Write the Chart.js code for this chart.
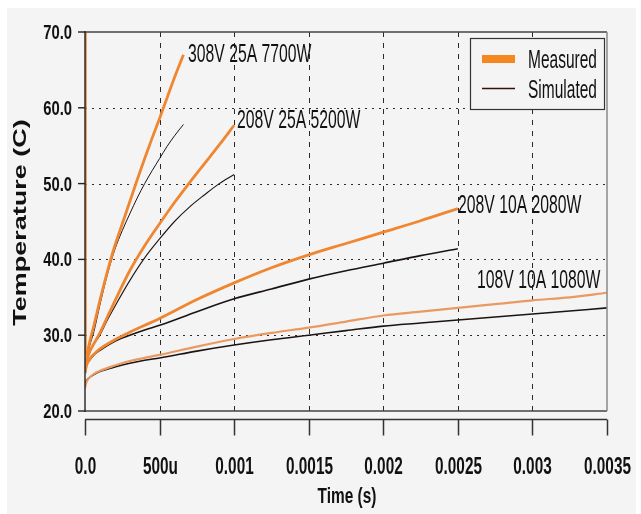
<!DOCTYPE html>
<html>
<head>
<meta charset="utf-8">
<script src="https://cdn.jsdelivr.net/npm/chart.js@4.4.1/dist/chart.umd.min.js"></script>
<style>
html,body{margin:0;padding:0;background:#ffffff;}
#wrap{width:641px;height:514px;position:relative;}
</style>
</head>
<body>
<div id="wrap"><canvas id="c" width="641" height="514"></canvas></div>
<script>
// ---- data ----
const xTickValues = [0, 0.0005, 0.001, 0.0015, 0.002, 0.0025, 0.003, 0.0035];
const xTickLabels = ['0.0', '500u', '0.001', '0.0015', '0.002', '0.0025', '0.003', '0.0035'];
const yTickValues = [70, 60, 50, 40, 30, 20];
const yTickLabels = ['70.0', '60.0', '50.0', '40.0', '30.0', '20.0'];
const xTitle = 'Time (s)';
const yTitle = 'Temperature (C)';
const legendLabels = ['Measured', 'Simulated'];

const spikeTime = [0.000005, 0.000005];
const spikeTemp = [70.5, 27.5];

const time308 = [0, 0.00001, 0.00003, 0.00006, 0.0001, 0.00015, 0.0002, 0.00025, 0.0003, 0.00035, 0.0004, 0.00045, 0.0005, 0.00055, 0.0006, 0.00066];
const meas308 = [25.0, 27.0, 29.0, 31.3, 34.6, 38.4, 41.8, 44.7, 47.6, 50.5, 53.3, 56.0, 58.6, 61.3, 64.0, 67.0];
const sim308  = [25.5, 26.8, 28.5, 30.5, 34.0, 38.0, 41.3, 43.8, 46.0, 48.1, 50.0, 51.7, 53.3, 54.9, 56.3, 57.8];

const time208a = [0, 0.00001, 0.00003, 0.00006, 0.0001, 0.00015, 0.0002, 0.0003, 0.0004, 0.0005, 0.0006, 0.0007, 0.0008, 0.0009, 0.001];
const meas208a = [25.3, 26.5, 27.8, 28.9, 30.3, 32.4, 34.5, 38.5, 41.8, 44.7, 47.5, 50.1, 52.6, 55.1, 57.7];
const sim208a  = [25.5, 26.4, 27.6, 28.8, 30.0, 32.0, 33.8, 37.2, 40.2, 42.7, 45.0, 46.9, 48.5, 50.0, 51.2];

const time208b = [0, 0.00001, 0.00003, 0.00006, 0.0001, 0.0002, 0.0003, 0.0004, 0.0005, 0.00075, 0.001, 0.00125, 0.0015, 0.00175, 0.002, 0.00225, 0.0025];
const meas208b = [25.0, 26.0, 26.8, 27.5, 28.2, 29.4, 30.4, 31.3, 32.2, 34.7, 36.9, 38.9, 40.6, 42.1, 43.6, 45.1, 46.7];
const sim208b  = [25.5, 26.1, 26.7, 27.4, 28.0, 29.2, 30.0, 30.7, 31.3, 33.1, 34.8, 36.1, 37.4, 38.5, 39.5, 40.5, 41.4];

const time108 = [0, 0.00001, 0.00003, 0.00006, 0.0001, 0.0002, 0.0003, 0.0004, 0.0005, 0.00075, 0.001, 0.00125, 0.0015, 0.00175, 0.002, 0.00225, 0.0025, 0.00275, 0.003, 0.00325, 0.0035];
const meas108 = [23.0, 23.8, 24.4, 24.9, 25.3, 26.0, 26.6, 27.0, 27.4, 28.5, 29.5, 30.3, 31.0, 31.8, 32.6, 33.1, 33.6, 34.1, 34.6, 35.0, 35.6];
const sim108  = [23.5, 24.0, 24.4, 24.8, 25.2, 25.8, 26.3, 26.7, 27.0, 27.9, 28.7, 29.4, 30.0, 30.6, 31.2, 31.6, 32.0, 32.4, 32.8, 33.2, 33.6];

const curveLabels = ['308V 25A 7700W', '208V 25A 5200W', '208V 10A 2080W', '108V 10A 1080W'];

// ---- helpers ----
function pts(xs, ys){ return xs.map((x, i) => ({x: x, y: ys[i]})); }
const ORANGE = '#ef8631';
const ORANGE_LIGHT = '#e99a62';
const DARK = '#1c1414';

function ds(xs, ys, color, width){
  return {data: pts(xs, ys), borderColor: color, borderWidth: width, pointRadius: 0, fill: false,
          cubicInterpolationMode: 'monotone', showLine: true};
}

function drawText(ctx, s, x, y, size, f, align, weight, color){
  ctx.save();
  ctx.font = weight + ' ' + size + 'px "Liberation Sans", Arial, sans-serif';
  ctx.fillStyle = color || '#111';
  ctx.textAlign = align;
  ctx.textBaseline = 'alphabetic';
  ctx.translate(x, y);
  ctx.scale(f, 1);
  ctx.fillText(s, 0, 0);
  ctx.restore();
}

const decor = {
  id: 'decor',
  beforeDraw(chart){
    const ctx = chart.ctx;
    const xs = chart.scales.x, ys = chart.scales.y;
    const a = chart.chartArea;
    ctx.save();
    ctx.fillStyle = '#ffffff';
    ctx.fillRect(0, 0, chart.width, chart.height);
    ctx.fillStyle = '#f4f4f4';
    ctx.fillRect(7, 8, 629, 506);
    // grid
    ctx.strokeStyle = '#2a2a2a';
    ctx.lineWidth = 1;
    ctx.setLineDash([5, 6]);
    xTickValues.forEach(v => {
      if (v === xs.min || v === xs.max) return;
      const px = Math.round(xs.getPixelForValue(v)) + 0.5;
      ctx.beginPath(); ctx.moveTo(px, a.top); ctx.lineTo(px, a.bottom); ctx.stroke();
    });
    ctx.setLineDash([2, 5]);
    yTickValues.forEach(v => {
      if (v === ys.min || v === ys.max) return;
      const py = Math.round(ys.getPixelForValue(v)) + 0.5;
      ctx.beginPath(); ctx.moveTo(a.left, py); ctx.lineTo(a.right, py); ctx.stroke();
    });
    ctx.restore();
  },
  afterDatasetsDraw(chart){
    const ctx = chart.ctx;
    const xs = chart.scales.x, ys = chart.scales.y;
    const a = chart.chartArea;
    ctx.save();
    ctx.setLineDash([]);
    // frame
    ctx.strokeStyle = '#444'; ctx.lineWidth = 1.6;
    ctx.beginPath(); ctx.moveTo(a.left, a.top); ctx.lineTo(a.right, a.top); ctx.stroke();
    ctx.beginPath(); ctx.moveTo(a.left, a.bottom); ctx.lineTo(a.right, a.bottom); ctx.stroke();
    ctx.strokeStyle = '#8a8a8a'; ctx.lineWidth = 1.5;
    ctx.beginPath(); ctx.moveTo(a.right, a.top); ctx.lineTo(a.right, a.bottom); ctx.stroke();
    // y axis
    ctx.strokeStyle = '#222'; ctx.lineWidth = 1.4;
    ctx.beginPath(); ctx.moveTo(a.left, a.top - 1); ctx.lineTo(a.left, a.bottom + 1); ctx.stroke();
    yTickValues.forEach((v, i) => {
      const py = ys.getPixelForValue(v);
      ctx.beginPath(); ctx.moveTo(a.left - 7, py); ctx.lineTo(a.left, py); ctx.stroke();
      drawText(ctx, yTickLabels[i], 72, py + 7, 20, 0.74, 'right', 'bold', '#111');
    });
    // separate x axis
    const axY = a.bottom + 8.5;
    ctx.strokeStyle = '#333'; ctx.lineWidth = 1.5;
    ctx.beginPath(); ctx.moveTo(a.left, axY); ctx.lineTo(a.right, axY); ctx.stroke();
    xTickValues.forEach((v, i) => {
      const px = Math.round(xs.getPixelForValue(v)) + 0.5;
      ctx.beginPath(); ctx.moveTo(px, axY); ctx.lineTo(px, axY + 16); ctx.stroke();
      drawText(ctx, xTickLabels[i], px, 474, 24, 0.64, 'center', 'bold', '#111');
    });
    drawText(ctx, xTitle, 347, 503, 22, 0.7, 'center', 'bold', '#111');
    // y title
    ctx.save();
    ctx.translate(26, 222.5);
    ctx.scale(0.65, 1);
    ctx.rotate(-Math.PI / 2);
    ctx.font = 'bold 27px "Liberation Sans", Arial, sans-serif';
    ctx.fillStyle = '#111';
    ctx.textAlign = 'center';
    ctx.textBaseline = 'alphabetic';
    ctx.fillText(yTitle, 0, 0);
    ctx.restore();
    // curve annotations
    const ann = [[188, 61.5], [237, 128], [458, 213], [477, 288]];
    curveLabels.forEach((s, i) => drawText(ctx, s, ann[i][0], ann[i][1], 25, 0.63, 'left', 'normal', '#111'));
    // legend
    ctx.fillStyle = '#f4f4f4';
    ctx.fillRect(470, 38, 134, 71);
    ctx.strokeStyle = '#333'; ctx.lineWidth = 1.2;
    ctx.strokeRect(470.5, 38.5, 134, 71);
    ctx.fillStyle = '#f5871f';
    ctx.fillRect(482, 55, 33, 8);
    ctx.strokeStyle = '#3a0d0d'; ctx.lineWidth = 1.3;
    ctx.beginPath(); ctx.moveTo(482, 88.5); ctx.lineTo(515, 88.5); ctx.stroke();
    drawText(ctx, legendLabels[0], 528, 68, 25, 0.62, 'left', 'normal', '#111');
    drawText(ctx, legendLabels[1], 528, 98, 25, 0.62, 'left', 'normal', '#111');
    ctx.restore();
  }
};

new Chart(document.getElementById('c'), {
  type: 'scatter',
  data: {
    datasets: [
      ds(spikeTime, spikeTemp, ORANGE, 2),
      ds(time108, meas108, ORANGE_LIGHT, 2.2),
      ds(time208b, meas208b, ORANGE, 2.8),
      ds(time208a, meas208a, ORANGE, 2.8),
      ds(time308, meas308, ORANGE, 2.8),
      ds(time108, sim108, DARK, 1.6),
      ds(time208b, sim208b, DARK, 1.6),
      ds(time208a, sim208a, DARK, 1.1),
      ds(time308, sim308, DARK, 1.0)
    ]
  },
  options: {
    responsive: false,
    animation: false,
    devicePixelRatio: 1,
    layout: {padding: {left: 85, right: 34, top: 32, bottom: 103}},
    plugins: {legend: {display: false}, tooltip: {enabled: false}, title: {display: false}},
    scales: {
      x: {type: 'linear', min: 0, max: 0.0035, display: false},
      y: {type: 'linear', min: 20, max: 70, display: false}
    }
  },
  plugins: [decor]
});
</script>
</body>
</html>
